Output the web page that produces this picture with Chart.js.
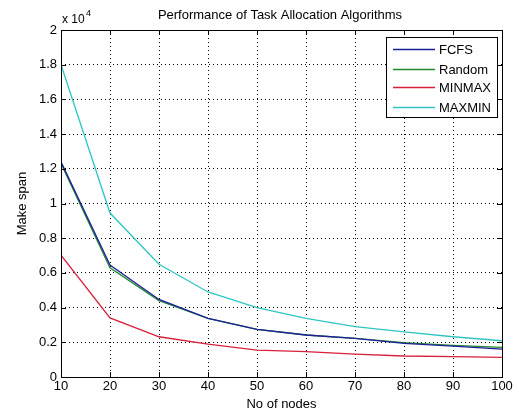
<!DOCTYPE html>
<html>
<head>
<meta charset="utf-8">
<script src="https://cdn.jsdelivr.net/npm/chart.js@4/dist/chart.umd.min.js"></script>
<style>
html,body{margin:0;padding:0;background:#fff;}
#wrap{width:519px;height:412px;position:relative;}
</style>
</head>
<body>
<div id="wrap"><canvas id="c" width="519" height="412"></canvas></div>
<script>
const nodes = [10, 20, 30, 40, 50, 60, 70, 80, 90, 100];
const fcfs   = [12400, 6450, 4470, 3380, 2750, 2420, 2230, 1940, 1780, 1610];
const random = [12300, 6300, 4400, 3380, 2750, 2420, 2230, 1980, 1820, 1710];
const minmax = [7020, 3410, 2320, 1900, 1550, 1460, 1320, 1210, 1180, 1130];
const maxmin = [18000, 9450, 6500, 4900, 4000, 3380, 2900, 2600, 2320, 2090];
const seriesNames = ['FCFS', 'Random', 'MINMAX', 'MAXMIN'];
const seriesColors = ['#1f1f9a', '#1f8a2a', '#d8203a', '#2fc4c4'];
const yTickValues = [0, 2000, 4000, 6000, 8000, 10000, 12000, 14000, 16000, 18000, 20000];
const titleText = 'Performance of Task Allocation Algorithms';
const xLabel = 'No of nodes';
const yLabel = 'Make span';

const FONT = '"Liberation Sans", Arial, Helvetica, sans-serif';

const pts = arr => arr.map((v, i) => ({x: nodes[i], y: v}));
const datasets = [fcfs, random, minmax, maxmin].map((arr, i) => ({
  label: seriesNames[i],
  data: pts(arr),
  borderColor: seriesColors[i],
  backgroundColor: seriesColors[i],
  borderWidth: 1.3,
  pointRadius: 0,
  tension: 0,
  fill: false
}));

const framePlugin = {
  id: 'frame',
  afterDraw(chart) {
    const {ctx, chartArea: a, scales} = chart;
    ctx.save();
    ctx.setLineDash([]);
    ctx.strokeStyle = '#000';
    ctx.lineWidth = 1;
    ctx.strokeRect(Math.round(a.left) + 0.5, Math.round(a.top) + 0.5,
      Math.round(a.right - a.left), Math.round(a.bottom - a.top));
    const tl = 5;
    scales.x.ticks.forEach(t => {
      const px = Math.round(scales.x.getPixelForValue(t.value)) + 0.5;
      ctx.beginPath();
      ctx.moveTo(px, a.bottom); ctx.lineTo(px, a.bottom - tl);
      ctx.moveTo(px, a.top); ctx.lineTo(px, a.top + tl);
      ctx.stroke();
    });
    scales.y.ticks.forEach(t => {
      const py = Math.round(scales.y.getPixelForValue(t.value)) + 0.5;
      ctx.beginPath();
      ctx.moveTo(a.left, py); ctx.lineTo(a.left + tl, py);
      ctx.moveTo(a.right, py); ctx.lineTo(a.right - tl, py);
      ctx.stroke();
    });
    // exponent label
    ctx.fillStyle = '#000';
    ctx.font = '12px ' + FONT;
    ctx.textBaseline = 'alphabetic';
    ctx.textAlign = 'left';
    ctx.fillText('x 10', a.left + 1, a.top - 7);
    ctx.font = '9px ' + FONT;
    ctx.fillText('4', a.left + 25, a.top - 14);
    // title
    ctx.font = '13px ' + FONT;
    ctx.textAlign = 'center';
    ctx.textBaseline = 'middle';
    ctx.fillText(titleText, 280, 15);
    // legend
    const lx = 386, ly = 37, lw = 111, lh = 80;
    ctx.fillStyle = '#fff';
    ctx.fillRect(lx, ly, lw, lh);
    ctx.strokeStyle = '#000';
    ctx.lineWidth = 1;
    ctx.strokeRect(lx + 0.5, ly + 0.5, lw, lh);
    const rows = [49, 69, 87, 107];
    seriesNames.forEach((name, i) => {
      ctx.strokeStyle = seriesColors[i];
      ctx.lineWidth = 1.6;
      ctx.beginPath();
      ctx.moveTo(393, rows[i] + 0.5);
      ctx.lineTo(435, rows[i] + 0.5);
      ctx.stroke();
      ctx.fillStyle = '#000';
      ctx.font = '13px ' + FONT;
      ctx.textAlign = 'left';
      ctx.textBaseline = 'middle';
      ctx.fillText(name, 439, rows[i] + 1);
    });
    ctx.restore();
  }
};

new Chart(document.getElementById('c'), {
  type: 'line',
  data: {datasets},
  options: {
    responsive: false,
    animation: false,
    devicePixelRatio: 1,
    layout: {padding: {top: 30, right: 17, left: 0, bottom: 0}},
    plugins: {legend: {display: false}, tooltip: {enabled: false}, title: {display: false}},
    scales: {
      x: {
        type: 'linear',
        min: 10, max: 100,
        afterFit(s) { s.height = 35; },
        ticks: {stepSize: 10, color: '#000', font: {family: FONT, size: 13}, padding: 2, maxRotation: 0},
        grid: {color: '#000', lineWidth: 1, drawTicks: false},
        border: {display: false, dash: [1, 3]},
        title: {display: true, text: xLabel, color: '#000', font: {family: FONT, size: 13}, padding: {top: 0, bottom: 0}}
      },
      y: {
        type: 'linear',
        min: 0, max: 20000,
        afterFit(s) { s.width = 61; },
        afterBuildTicks(s) { s.ticks = yTickValues.map(v => ({value: v})); },
        ticks: {color: '#000', font: {family: FONT, size: 13}, padding: 4,
          callback: v => String(v / 10000)},
        grid: {color: '#000', lineWidth: 1, drawTicks: false},
        border: {display: false, dash: [1, 3]},
        title: {display: true, text: yLabel, color: '#000', font: {family: FONT, size: 13}, padding: {top: 15, bottom: 0}}
      }
    }
  },
  plugins: [framePlugin]
});
</script>
</body>
</html>
